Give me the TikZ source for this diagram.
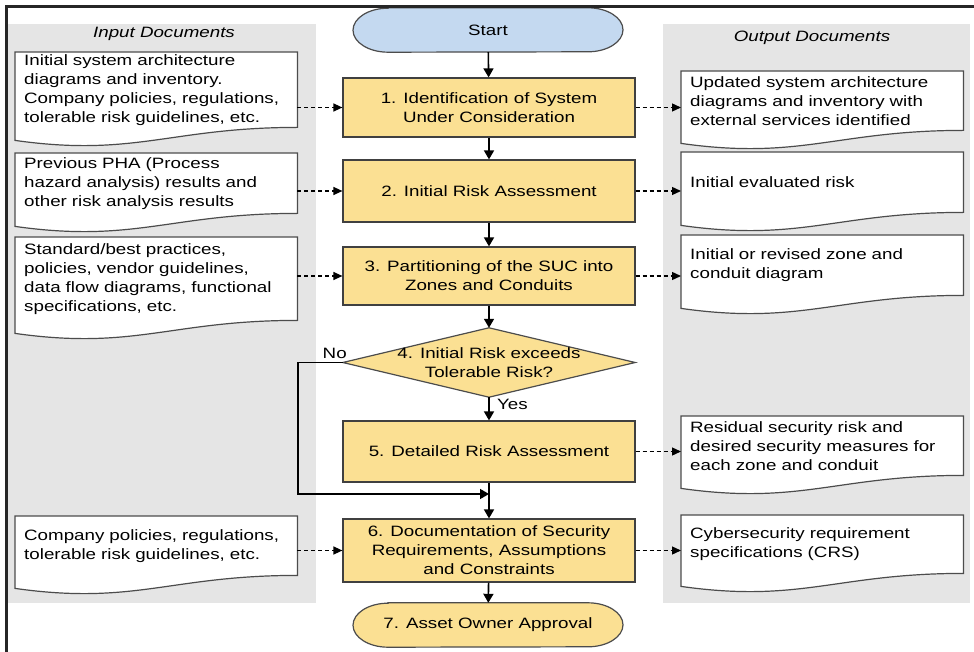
\documentclass[tikz,border=0pt]{standalone}
\usepackage{fontspec}
\setmainfont{Liberation Sans}[FakeStretch=1.25]
\usepackage{xcolor}
\usetikzlibrary{positioning,calc,backgrounds,arrows.meta}

\definecolor{boxyellow}{RGB}{251,224,147}
\definecolor{startblue}{RGB}{196,217,240}
\definecolor{panelgrey}{RGB}{229,229,229}

\newcommand{\flowfont}{\fontsize{15}{19}\selectfont}
% terminator outline round a named node
\newcommand{\terminal}[2]{%
  \draw[termline,fill=#2] ($(#1.north)+(-100,0)$) -- ($(#1.north)+(100,0)$)
    arc[start angle=90,end angle=-90,x radius=35pt,y radius=22pt]
    -- ($(#1.south)+(-100,0)$)
    arc[start angle=270,end angle=90,x radius=35pt,y radius=22pt] -- cycle;}

\tikzset{
  procbox/.style={draw=black!75, line width=1.2pt, fill=boxyellow, minimum width=292pt, align=center, font=\flowfont, inner sep=2pt},
  docnode/.style={anchor=north west, text width=264pt, inner xsep=9pt, inner ysep=2pt, align=left, font=\flowfont},
  docline/.style={draw=black!70, line width=1.2pt, fill=white},
  termline/.style={draw=black!70, line width=1.2pt},
  termnode/.style={minimum width=271pt, minimum height=44pt, font=\flowfont, inner sep=0pt},
  heading/.style={font=\flowfont\itshape},
  flow/.style={line width=1.6pt, -{Triangle[length=9pt,width=10pt]}},
  docflow/.style={line width=1.3pt, dash pattern=on 4pt off 3pt, -{Triangle[length=9pt,width=8pt]}},
}

\begin{document}
\begin{tikzpicture}[x=1pt,y=-1pt]
  \useasboundingbox (0,0) rectangle (974,652);

  % frame
  \draw[line width=3pt, black!85] (6.5,652) -- (6.5,6.5) -- (974,6.5);

  % headings
  \node[heading] (inhead) at (164,34) {Input Documents};
  \node[heading] (outhead) at (812,38) {Output Documents};

  % input documents
  \node[docnode, minimum height=75pt] (in1) at (15,52) {Initial system architecture\\ diagrams and inventory.\\ Company policies, regulations,\\ tolerable risk guidelines, etc.};
  \node[docnode, minimum height=60pt] (in2) at (15,153) {Previous PHA (Process\\ hazard analysis) results and\\ other risk analysis results};
  \node[docnode, minimum height=83pt] (in3) at (15,237) {Standard/best practices,\\ policies, vendor guidelines,\\ data flow diagrams, functional\\ specifications, etc.};
  \node[docnode, minimum height=59pt] (in4) at (15,516) {Company policies, regulations,\\ tolerable risk guidelines, etc.};

  % output documents
  \node[docnode, minimum height=59pt] (out1) at (681,71) {Updated system architecture\\ diagrams and inventory with\\ external services identified};
  \node[docnode, minimum height=60pt] (out2) at (681,152) {Initial evaluated risk};
  \node[docnode, minimum height=60pt] (out3) at (681,235) {Initial or revised zone and\\ conduit diagram};
  \node[docnode, minimum height=59pt] (out4) at (681,416) {Residual security risk and\\ desired security measures for\\ each zone and conduit};
  \node[docnode, minimum height=58pt] (out5) at (681,515) {Cybersecurity requirement\\ specifications (CRS)};

  % process steps
  \node[termnode] (start) at (488,30) {Start};
  \node[procbox, minimum height=59pt] (s1) at (489,107.5) {1. Identification of System\\ Under Consideration};
  \node[procbox, minimum height=62pt] (s2) at (489,191) {2. Initial Risk Assessment};
  \node[procbox, minimum height=58pt] (s3) at (489,276) {3. Partitioning of the SUC into\\ Zones and Conduits};
  \node[minimum width=292pt, minimum height=69pt, align=center, font=\flowfont, inner sep=0pt] (dec) at (489,362.5) {4. Initial Risk exceeds\\ Tolerable Risk?};
  \node[procbox, minimum height=61pt] (s5) at (489,451.5) {5. Detailed Risk Assessment};
  \node[procbox, minimum height=63pt] (s6) at (489,550.5) {6. Documentation of Security\\ Requirements, Assumptions\\ and Constraints};
  \node[termnode] (approve) at (488,625) {7. Asset Owner Approval};

  \coordinate (merge) at (489,494);

  \begin{scope}[on background layer]
    \fill[panelgrey] (8,24) rectangle (316,603);
    \fill[panelgrey] (663,24) rectangle (970,603);
    \foreach \d in {in1,in2,in3,in4,out1,out2,out3,out4,out5} {
      \draw[docline] (\d.north west) -- (\d.north east) -- (\d.south east)
        .. controls ($(\d.south east)+(-127,0)$) and ($(\d.south west)+(120,30)$) .. ($(\d.south west)+(0,13)$) -- cycle;
    }
    \terminal{start}{startblue}
    \terminal{approve}{boxyellow}
    \draw[termline, fill=boxyellow] (dec.north) -- (dec.east) -- (dec.south) -- (dec.west) -- cycle;
  \end{scope}

  % main flow
  \draw[flow] (start) -- (s1);
  \draw[flow] (s1) -- (s2);
  \draw[flow] (s2) -- (s3);
  \draw[flow] (s3) -- (dec.north);
  \draw[flow] (dec.south) -- node[right, pos=0.3, font=\flowfont, xshift=4pt] {Yes} (s5);
  \draw[flow] (s5) -- (s6);
  \draw[flow] (s6) -- (approve);
  \draw[flow] (dec.west) -- node[above, pos=0.18, font=\flowfont] {No} ++(-45,0) |- (merge);

  % document links
  \foreach \d/\s in {in1/s1,in2/s2,in3/s3,in4/s6}
    \draw[docflow] (\s.west -| \d.east) -- (\s.west);
  \foreach \s/\d in {s1/out1,s2/out2,s3/out3,s5/out4,s6/out5}
    \draw[docflow] (\s.east) -- (\s.east -| \d.west);
\end{tikzpicture}
\end{document}
